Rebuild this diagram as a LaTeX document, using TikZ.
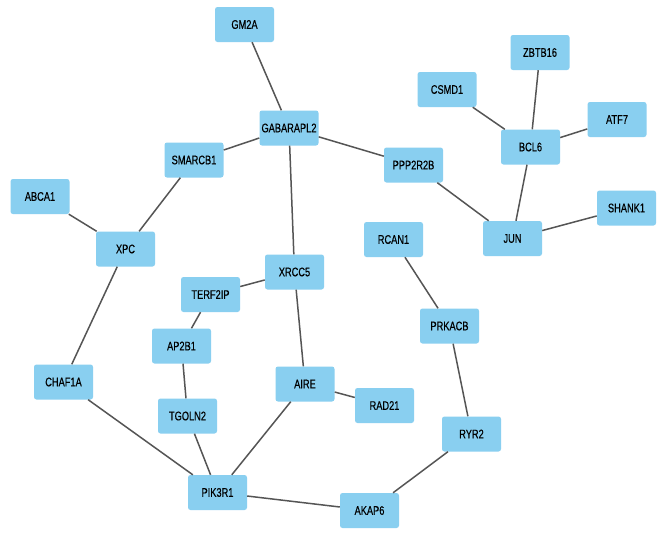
\documentclass[tikz,border=0pt]{standalone}
\usepackage{fontspec}
\setmainfont[FakeStretch=0.74,FakeBold=0.4]{Liberation Sans}
\definecolor{nodeblue}{RGB}{137,207,240}
\definecolor{edgegray}{RGB}{85,85,85}
\begin{document}
\begin{tikzpicture}[x=1pt,y=-1pt,
  gene/.style={fill=nodeblue,draw=none,rounded corners=2.5pt,minimum width=59pt,minimum height=35pt,inner sep=0pt,font=\fontsize{12.5}{13}\selectfont},
  link/.style={draw=edgegray,line width=1.5pt}]
\useasboundingbox (0,0) rectangle (665,539);
\fill[white] (0,0) rectangle (665,539);
% nodes
\node[gene] (GM2A) at (244.5,24.5) {GM2A};
\node[gene] (GABARAPL2) at (289,128) {GABARAPL2};
\node[gene] (SMARCB1) at (194,160) {SMARCB1};
\node[gene] (ABCA1) at (40,196.5) {ABCA1};
\node[gene] (XPC) at (125.5,249) {XPC};
\node[gene] (XRCC5) at (294.5,272) {XRCC5};
\node[gene] (ZBTB16) at (540,52.5) {ZBTB16};
\node[gene] (CSMD1) at (447,89.5) {CSMD1};
\node[gene] (ATF7) at (617,119.5) {ATF7};
\node[gene] (BCL6) at (530.5,147) {BCL6};
\node[gene] (PPP2R2B) at (413.5,165) {PPP2R2B};
\node[gene] (SHANK1) at (626.5,208) {SHANK1};
\node[gene] (JUN) at (512.5,238.5) {JUN};
\node[gene] (RCAN1) at (393.5,239.5) {RCAN1};
\node[gene] (TERF2IP) at (210.5,294.5) {TERF2IP};
\node[gene] (AP2B1) at (181.5,346) {AP2B1};
\node[gene] (CHAF1A) at (63.5,382) {CHAF1A};
\node[gene] (AIRE) at (305,384) {AIRE};
\node[gene] (TGOLN2) at (187.5,416) {TGOLN2};
\node[gene] (PIK3R1) at (217.5,492.5) {PIK3R1};
\node[gene] (PRKACB) at (449.5,326) {PRKACB};
\node[gene] (RAD21) at (384.5,405.5) {RAD21};
\node[gene] (RYR2) at (471.5,434) {RYR2};
\node[gene] (AKAP6) at (369.5,510.5) {AKAP6};
% edges
\foreach \a/\b in {GM2A/GABARAPL2,GABARAPL2/SMARCB1,GABARAPL2/PPP2R2B,GABARAPL2/XRCC5,
  SMARCB1/XPC,ABCA1/XPC,XPC/CHAF1A,CHAF1A/PIK3R1,PPP2R2B/JUN,CSMD1/BCL6,ZBTB16/BCL6,
  ATF7/BCL6,BCL6/JUN,SHANK1/JUN,RCAN1/PRKACB,PRKACB/RYR2,RYR2/AKAP6,AKAP6/PIK3R1,
  XRCC5/TERF2IP,XRCC5/AIRE,TERF2IP/AP2B1,AP2B1/TGOLN2,TGOLN2/PIK3R1,AIRE/PIK3R1,AIRE/RAD21}
  \draw[link] (\a) -- (\b);
\end{tikzpicture}
\end{document}
